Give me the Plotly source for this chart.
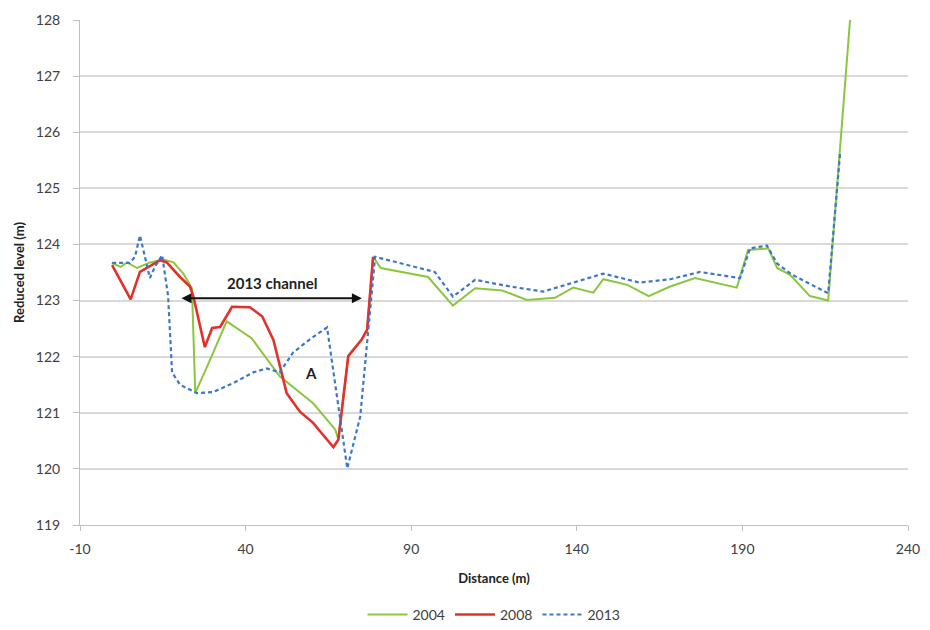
import plotly.graph_objects as go

# 2004 survey
x2004 = [-0.4, 2.3, 4.2, 7.2, 11.2, 15.2, 18.2, 21.2, 23.8, 24.8, 29.1, 34.3, 41.8, 50.3, 60.4, 67.1,
         68.0, 71.0, 75.1, 76.7, 78.5, 80.8, 95.1, 102.6, 109.3, 117.5, 124.9, 133.4, 138.9, 145.0,
         148.0, 155.3, 161.7, 168.2, 175.7, 188.3, 191.7, 197.8, 200.5, 204.4, 210.4, 215.9, 222.5]
y2004 = [123.67, 123.6, 123.68, 123.58, 123.68, 123.73, 123.68, 123.48, 123.22, 121.35, 121.92, 122.63, 122.33, 121.65, 121.17, 120.70,
         120.52, 122.01, 122.31, 122.48, 123.78, 123.58, 123.42, 122.91, 123.22, 123.18, 123.01, 123.05, 123.23, 123.14,
         123.38, 123.28, 123.08, 123.25, 123.4, 123.23, 123.9, 123.93, 123.58, 123.46, 123.08, 123.0, 128.0]

# 2008 survey
x2008 = [-0.3, 5.3, 8.1, 11.7, 14.2, 16.2, 20.2, 23.2, 24.2, 27.7, 29.9, 32.3, 35.9, 41.3, 45.0, 48.4,
         52.4, 56.4, 60.4, 62.9, 66.5, 68.0, 71.0, 75.1, 76.7, 78.5]
y2008 = [123.63, 123.02, 123.51, 123.63, 123.72, 123.68, 123.42, 123.25, 123.08, 122.17, 122.51, 122.53, 122.89, 122.88, 122.72, 122.3,
         121.35, 121.02, 120.82, 120.64, 120.39, 120.52, 122.01, 122.31, 122.48, 123.78]

# 2013 survey
x2013 = [-0.3, 5.0, 6.6, 8.1, 11.1, 12.6, 14.8, 16.6, 17.8, 20.2, 25.3, 30.2, 36.3, 42.3, 46.4, 50.3,
         54.3, 59.4, 64.6, 70.7, 74.6, 79.1, 97.1, 102.6, 109.3, 119.9, 129.9, 139.9, 148.0, 159.0,
         168.2, 177.2, 189.3, 192.3, 197.4, 200.5, 205.0, 215.9, 219.5]
y2013 = [123.67, 123.67, 123.78, 124.16, 123.4, 123.6, 123.81, 123.08, 121.72, 121.5, 121.35, 121.37, 121.53, 121.72, 121.79, 121.72,
         122.07, 122.31, 122.52, 120.01, 120.93, 123.78, 123.51, 123.07, 123.37, 123.25, 123.16, 123.34, 123.48, 123.32,
         123.38, 123.51, 123.4, 123.93, 123.98, 123.66, 123.46, 123.13, 125.63]

x_ticks = [-10, 40, 90, 140, 190, 240]
x_tick_text = ["-10", "40", "90", "140", "190", "240"]
y_ticks = [119, 120, 121, 122, 123, 124, 125, 126, 127, 128]

FONT = "Lato"
fig = go.Figure()
fig.add_trace(go.Scatter(x=x2004, y=y2004, mode="lines", name="2004",
                         line=dict(color="#8CC63E", width=2)))
fig.add_trace(go.Scatter(x=x2008, y=y2008, mode="lines", name="2008",
                         line=dict(color="#E3302B", width=2.6)))
fig.add_trace(go.Scatter(x=x2013, y=y2013, mode="lines", name="2013",
                         line=dict(color="#3D78C8", width=2.2, dash="4px,3px")))

fig.add_annotation(x=75.1, y=123.04, ax=20.2, ay=123.04, xref="x", yref="y", axref="x", ayref="y",
                   text="", showarrow=True, arrowhead=2, arrowside="end+start",
                   arrowwidth=2, arrowsize=1, arrowcolor="#111111")
fig.add_annotation(x=48.0, y=123.31, text="<b>2013 channel</b>", showarrow=False,
                   font=dict(family=FONT, size=15, color="#222222"))
fig.add_annotation(x=59.7, y=121.71, text="<b>A</b>", showarrow=False,
                   font=dict(family=FONT, size=15, color="#222222"))

fig.update_layout(
    width=930, height=630,
    margin=dict(l=80, r=22, t=20, b=105, autoexpand=False),
    paper_bgcolor="white", plot_bgcolor="white",
    font=dict(family=FONT, size=14, color="#404040"),
    legend=dict(orientation="h", x=0.5, xanchor="center", y=-0.178, yanchor="middle",
                font=dict(size=14), itemwidth=40),
    showlegend=True,
)
fig.update_xaxes(range=[-10, 240], tickvals=x_ticks, ticktext=x_tick_text, showgrid=False, zeroline=False,
                 showline=True, linecolor="#BFBFBF", ticks="outside", ticklen=5, tickcolor="#BFBFBF",
                 ticklabelstandoff=6, automargin=False,
                 title=dict(text="<b>Distance (m)</b>", font=dict(size=13, color="#222222"), standoff=18))
fig.update_yaxes(range=[119, 128], tickvals=y_ticks, showgrid=True, gridcolor="#D9D9D9", gridwidth=1.5,
                 zeroline=False, showline=True, linecolor="#BFBFBF", ticks="outside", ticklen=6,
                 tickcolor="#BFBFBF", ticklabelstandoff=10, automargin=False,
                 title=dict(text="<b>Reduced level (m)</b>", font=dict(size=13, color="#222222"), standoff=8))

fig.write_html("out.html")
